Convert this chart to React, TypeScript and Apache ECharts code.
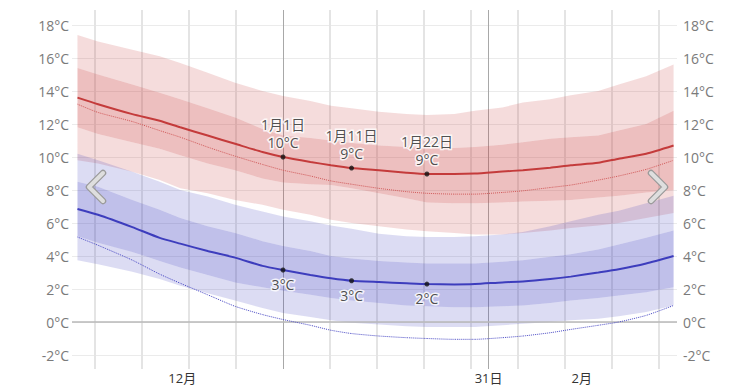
import React, { useEffect, useRef } from 'react';
import * as echarts from 'echarts';

// day offsets relative to Jan 1
const days = [-30, -27, -22, -18, -15, -11, -7, -3, 0, 4, 7, 10, 14, 18, 21, 25, 28, 32, 35, 39, 42, 46, 49, 53, 57];

const redOutHi = [17.4, 17.0, 16.5, 16.1, 15.7, 15.1, 14.5, 14.0, 13.7, 13.4, 13.1, 12.95, 12.75, 12.6, 12.55, 12.6, 12.8, 13.0, 13.3, 13.5, 13.75, 14.0, 14.4, 14.9, 15.6];
const redInHi = [15.4, 15.0, 14.4, 13.9, 13.5, 12.95, 12.4, 11.7, 11.3, 11.15, 11.0, 10.85, 10.7, 10.6, 10.55, 10.55, 10.6, 10.75, 10.9, 11.1, 11.2, 11.3, 11.6, 12.0, 12.8];
const redMean = [13.6, 13.2, 12.6, 12.2, 11.8, 11.3, 10.8, 10.3, 10.0, 9.7, 9.5, 9.33, 9.2, 9.05, 8.97, 8.97, 9.0, 9.12, 9.2, 9.35, 9.5, 9.65, 9.9, 10.2, 10.7];
const redDot = [13.2, 12.7, 12.15, 11.6, 11.2, 10.6, 10.05, 9.55, 9.2, 8.85, 8.55, 8.35, 8.1, 7.9, 7.8, 7.75, 7.75, 7.85, 7.95, 8.15, 8.3, 8.6, 8.85, 9.25, 9.8];
const redInLo = [11.8, 11.4, 10.9, 10.5, 10.1, 9.6, 9.2, 8.7, 8.45, 8.35, 8.3, 8.1, 7.8, 7.5, 7.25, 7.2, 7.2, 7.25, 7.3, 7.35, 7.4, 7.55, 7.65, 7.85, 8.0];
const redOutLo = [9.8, 9.6, 9.1, 8.6, 8.1, 7.8, 7.4, 7.1, 6.8, 6.5, 6.2, 6.0, 5.8, 5.6, 5.5, 5.4, 5.3, 5.3, 5.4, 5.55, 5.7, 5.85, 6.0, 6.3, 6.6];

const blueOutHi = [10.2, 9.8, 9.1, 8.5, 8.0, 7.6, 7.1, 6.7, 6.4, 6.1, 5.85, 5.65, 5.35, 5.2, 5.15, 5.15, 5.2, 5.3, 5.45, 5.8, 6.1, 6.5, 6.75, 7.2, 7.65];
const blueInHi = [8.5, 8.2, 7.4, 6.8, 6.3, 5.8, 5.4, 4.9, 4.6, 4.3, 4.0, 3.85, 3.7, 3.6, 3.55, 3.55, 3.55, 3.65, 3.75, 3.95, 4.1, 4.4, 4.7, 5.1, 5.55];
const blueMean = [6.85, 6.5, 5.75, 5.1, 4.75, 4.3, 3.9, 3.4, 3.15, 2.85, 2.65, 2.5, 2.42, 2.35, 2.3, 2.28, 2.3, 2.4, 2.45, 2.6, 2.75, 3.0, 3.2, 3.55, 4.0];
const blueDot = [5.15, 4.65, 3.75, 2.9, 2.35, 1.65, 0.95, 0.45, 0.15, -0.2, -0.5, -0.7, -0.85, -0.95, -1.0, -1.05, -1.05, -0.95, -0.85, -0.65, -0.45, -0.2, 0.0, 0.4, 1.0];
const blueInLo = [5.2, 4.8, 4.25, 3.7, 3.3, 2.85, 2.4, 2.1, 1.9, 1.65, 1.45, 1.3, 1.15, 1.0, 0.95, 0.9, 0.9, 0.95, 1.0, 1.15, 1.3, 1.45, 1.6, 1.8, 2.1];
const blueOutLo = [3.75, 3.5, 3.05, 2.6, 2.2, 1.75, 1.3, 0.85, 0.55, 0.3, 0.1, -0.05, -0.15, -0.25, -0.3, -0.3, -0.3, -0.2, -0.1, 0.0, 0.1, 0.2, 0.35, 0.6, 1.0];

// highlighted points
const pointDays = [0, 10, 21];
const pointDates = ['1月1日', '1月11日', '1月22日'];
const highPointVals = [10.0, 9.33, 8.97];
const highLabels = ['10°C', '9°C', '9°C'];
const lowPointVals = [3.15, 2.5, 2.3];
const lowLabels = ['3°C', '3°C', '2°C'];

// vertical grid lines and markers (days)
const gridDays = [-27.45, -20.6, -13.7, -6.85, 6.85, 13.7, 20.55, 27.4, 34.3, 41.15, 48.0, 54.85];
const markerDays = [0, 30];

// x labels
const xLabelDays = [-14.7, 30, 43.6];
const xLabelTexts = ['12月', '31日', '2月'];

const X_MIN = -30.8;
const X_MAX = 57.5;
const Y_MIN = -2;
const Y_MAX = 18;
const Y_STEP = 2;

const FONT = "'Open Sans', 'Noto Sans CJK SC', sans-serif";

const zip = (ys: number[]) => days.map((d, i) => [d, ys[i]]);

function bandPolygon(lo: number[], hi: number[], fill: string, z: number) {
  return {
    type: 'custom',
    coordinateSystem: 'cartesian2d',
    xAxisIndex: 0,
    yAxisIndex: 0,
    silent: true,
    z,
    data: [[days[0], lo[0]]],
    renderItem: (params: any, api: any) => {
      if (params.dataIndex !== 0) return null;
      const pts: number[][] = [];
      for (let i = 0; i < days.length; i++) pts.push(api.coord([days[i], hi[i]]));
      for (let i = days.length - 1; i >= 0; i--) pts.push(api.coord([days[i], lo[i]]));
      return { type: 'polygon', shape: { points: pts }, style: { fill, stroke: 'none' } };
    },
  };
}

function bandSeries(lo: number[], mid1: number[], mid2: number[], hi: number[], light: string, dark: string) {
  return [
    bandPolygon(lo, mid1, light, 2),
    bandPolygon(mid1, mid2, dark, 2),
    bandPolygon(mid2, hi, light, 2),
  ];
}

function chevron(points: number[][]) {
  return [
    {
      type: 'polyline',
      shape: { points },
      style: { stroke: '#9a9a9a', lineWidth: 6.5, lineCap: 'round', lineJoin: 'round', fill: 'none' },
      z: 100,
    },
    {
      type: 'polyline',
      shape: { points },
      style: { stroke: '#dedede', lineWidth: 4, lineCap: 'round', lineJoin: 'round', fill: 'none' },
      z: 101,
    },
  ];
}

export default function App() {
  const ref = useRef<HTMLDivElement>(null);
  useEffect(() => {
    if (!ref.current) return;
    const chart = echarts.init(ref.current, null, { renderer: 'svg' });
    const axisLabelStyle = { color: '#7a7a7a', fontSize: 14, fontFamily: FONT };
    const pointLabel = {
      color: '#222', fontSize: 14, lineHeight: 18, fontFamily: FONT,
      textBorderColor: '#ffffff', textBorderWidth: 3,
    };
    const option: any = {
      animation: false,
      backgroundColor: '#ffffff',
      grid: [
        { left: 72, right: 76, top: 25, bottom: 32 },
        { left: 72, right: 76, top: 10, bottom: 18 },
      ],
      xAxis: [
        {
          type: 'value', gridIndex: 0, min: X_MIN, max: X_MAX,
          axisLine: { show: false }, axisTick: { show: false }, axisLabel: { show: false }, splitLine: { show: false },
        },
        {
          type: 'value', gridIndex: 1, min: X_MIN, max: X_MAX,
          axisLine: { show: false }, axisTick: { show: false }, splitLine: { show: false },
          axisLabel: {
            show: true,
            customValues: xLabelDays,
            margin: 2,
            color: '#333',
            fontSize: 13,
            fontFamily: FONT,
            formatter: (v: number) => {
              const i = xLabelDays.findIndex((d) => Math.abs(d - v) < 1e-6);
              return i >= 0 ? xLabelTexts[i] : '';
            },
          },
        },
      ],
      yAxis: [
        {
          type: 'value', gridIndex: 0, min: Y_MIN, max: Y_MAX, interval: Y_STEP, position: 'left',
          axisLine: { show: false }, axisTick: { show: false },
          axisLabel: { ...axisLabelStyle, margin: 3, formatter: (v: number) => v + '°C' },
          splitLine: { show: true, lineStyle: { color: '#ebebeb', width: 1 } },
        },
        {
          type: 'value', gridIndex: 0, min: Y_MIN, max: Y_MAX, interval: Y_STEP, position: 'right',
          axisLine: { show: false }, axisTick: { show: false },
          axisLabel: { ...axisLabelStyle, margin: 6, formatter: (v: number) => v + '°C' },
          splitLine: { show: false },
        },
        {
          type: 'value', gridIndex: 1, min: 0, max: 1, show: false,
        },
      ],
      series: [
        // vertical grid lines
        {
          type: 'line', xAxisIndex: 1, yAxisIndex: 2, data: [[X_MIN, 0]], symbol: 'none', silent: true,
          lineStyle: { opacity: 0 }, z: 1,
          markLine: {
            z: 1, silent: true, symbol: ['none', 'none'], label: { show: false },
            lineStyle: { color: '#e4e4e4', width: 2, type: 'solid' },
            data: gridDays.map((d) => ({ xAxis: d })),
          },
        },
        {
          type: 'line', xAxisIndex: 1, yAxisIndex: 2, data: [[X_MIN, 0]], symbol: 'none', silent: true,
          lineStyle: { opacity: 0 }, z: 1,
          markLine: {
            z: 1, silent: true, symbol: ['none', 'none'], label: { show: false },
            lineStyle: { color: '#a8a8a8', width: 1, type: 'solid' },
            data: markerDays.map((d) => ({ xAxis: d })),
          },
        },
        ...bandSeries(redOutLo, redInLo, redInHi, redOutHi, 'rgba(200,60,60,0.18)', 'rgba(200,60,60,0.33)'),
        ...bandSeries(blueOutLo, blueInLo, blueInHi, blueOutHi, 'rgba(60,60,190,0.18)', 'rgba(60,60,190,0.32)'),
        // zero line
        {
          type: 'line', xAxisIndex: 0, yAxisIndex: 0, data: [[X_MIN, 0]], symbol: 'none', silent: true,
          lineStyle: { opacity: 0 }, z: 3,
          markLine: {
            z: 3, silent: true, symbol: ['none', 'none'], label: { show: false },
            lineStyle: { color: '#b8b8b8', width: 1.5, type: 'solid' },
            data: [{ yAxis: 0 }],
          },
        },
        {
          type: 'line', name: 'redDot', xAxisIndex: 0, yAxisIndex: 0, data: zip(redDot), symbol: 'none', smooth: 0.2,
          lineStyle: { color: '#d05a5a', width: 1, type: 'dotted' }, z: 4, silent: true,
        },
        {
          type: 'line', name: 'blueDot', xAxisIndex: 0, yAxisIndex: 0, data: zip(blueDot), symbol: 'none', smooth: 0.2,
          lineStyle: { color: '#4a4ac4', width: 1, type: 'dotted' }, z: 4, silent: true,
        },
        {
          type: 'line', name: 'redMean', xAxisIndex: 0, yAxisIndex: 0, data: zip(redMean), symbol: 'none', smooth: 0.2,
          lineStyle: { color: '#c43b3b', width: 2 }, z: 5, silent: true,
        },
        {
          type: 'line', name: 'blueMean', xAxisIndex: 0, yAxisIndex: 0, data: zip(blueMean), symbol: 'none', smooth: 0.2,
          lineStyle: { color: '#3d3dbd', width: 2 }, z: 5, silent: true,
        },
        {
          type: 'scatter', xAxisIndex: 0, yAxisIndex: 0, symbolSize: 5, z: 6, silent: true,
          itemStyle: { color: '#111' },
          data: pointDays.map((d, i) => [d, highPointVals[i]]),
          label: {
            show: true, position: 'top', distance: 3,
            formatter: (p: any) => pointDates[p.dataIndex] + '\n' + highLabels[p.dataIndex],
            ...pointLabel,
          },
        },
        {
          type: 'scatter', xAxisIndex: 0, yAxisIndex: 0, symbolSize: 5, z: 6, silent: true,
          itemStyle: { color: '#111' },
          data: pointDays.map((d, i) => [d, lowPointVals[i]]),
          label: {
            show: true, position: 'bottom', distance: 3,
            formatter: (p: any) => lowLabels[p.dataIndex],
            ...pointLabel,
          },
        },
      ],
      graphic: [
        ...chevron([[103, 173], [89, 187], [103, 201]]),
        ...chevron([[651, 173], [665, 187], [651, 201]]),
      ],
    };
    chart.setOption(option);
    return () => chart.dispose();
  }, []);
  return <div ref={ref} style={{ position: 'fixed', left: 0, top: 0, width: 753, height: 387 }} />;
}
